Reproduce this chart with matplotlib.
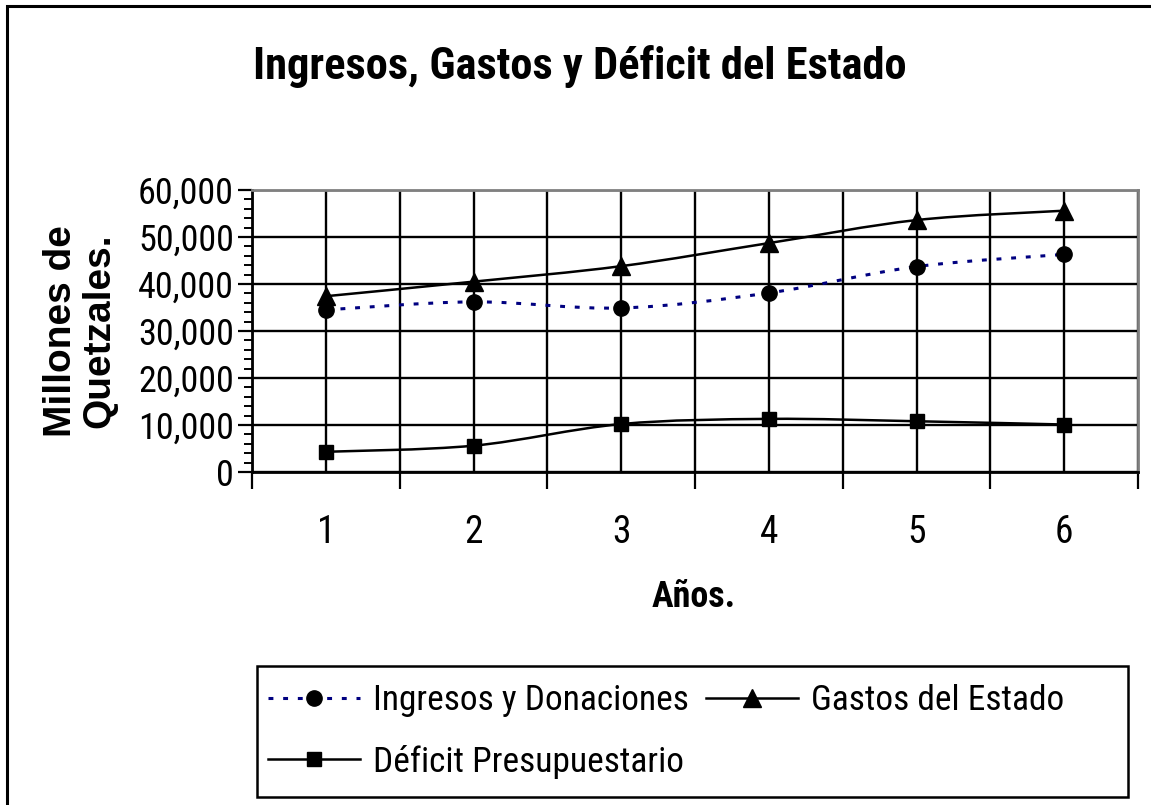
import numpy as np
import matplotlib
matplotlib.use("Agg")
import matplotlib.pyplot as plt
from matplotlib import font_manager
from matplotlib.path import Path
from matplotlib.patches import PathPatch, Rectangle
from matplotlib.lines import Line2D
from matplotlib.ticker import MultipleLocator, StrMethodFormatter

# datos
anios = [1, 2, 3, 4, 5, 6]
ingresos = [34500, 36200, 34900, 38100, 43700, 46300]
gastos = [37400, 40500, 43800, 48700, 53600, 55600]
deficit = [4300, 5600, 10200, 11300, 10800, 10100]

titulo = "Ingresos, Gastos y Déficit del Estado"
etiquetas = ["Ingresos y Donaciones", "Gastos del Estado", "Déficit Presupuestario"]


def pick_font(cands, default):
    disponibles = {f.name for f in font_manager.fontManager.ttflist}
    for n in cands:
        if n in disponibles:
            return n
    return default


narrow = pick_font(["Roboto Condensed", "Archivo Narrow", "PT Sans Narrow"], "Liberation Sans")
font = "Liberation Sans"


# curva suavizada tipo Excel (bezier)
def smooth_path(x, y):
    pts = np.column_stack([x, y]).astype(float)
    ext = np.vstack([pts[0], pts, pts[-1]])
    verts = [pts[0]]
    codes = [Path.MOVETO]
    for i in range(len(pts) - 1):
        p0, p1, p2, p3 = ext[i], ext[i + 1], ext[i + 2], ext[i + 3]
        verts += [p1 + (p2 - p0) / 6, p2 - (p3 - p1) / 6, p2]
        codes += [Path.CURVE4] * 3
    return Path(verts, codes)


W, H = 1151, 805
fig = plt.figure(figsize=(W / 100, H / 100), dpi=100)
ax = fig.add_axes([252 / W, 1 - 472 / H, (1138 - 252) / W, (472 - 190) / H])

navy = "#000080"
dots = (0, (1.6, 3.2))

ax.add_patch(PathPatch(smooth_path(anios, ingresos), fill=False, ec=navy, lw=2.2, ls=dots, zorder=3))
ax.add_patch(PathPatch(smooth_path(anios, gastos), fill=False, ec="black", lw=1.8, zorder=3))
ax.add_patch(PathPatch(smooth_path(anios, deficit), fill=False, ec="black", lw=1.8, zorder=3))

ax.plot(anios, ingresos, ls="none", marker="o", ms=11, color="black", zorder=4)
ax.plot(anios, gastos, ls="none", marker="^", ms=13, color="black", zorder=4)
ax.plot(anios, deficit, ls="none", marker="s", ms=10, color="black", zorder=4)

ax.set_xlim(0.5, 6.5)
ax.set_ylim(0, 60000)
ax.set_xticks(anios)
ax.set_xticks(np.arange(0.5, 7, 1), minor=True)
ax.yaxis.set_major_locator(MultipleLocator(10000))
ax.yaxis.set_minor_locator(MultipleLocator(2000))
ax.yaxis.set_major_formatter(StrMethodFormatter("{x:,.0f}"))

ax.grid(which="both", axis="x", color="black", lw=1.7)
ax.grid(which="major", axis="y", color="black", lw=1.7)
ax.set_axisbelow(True)

ax.tick_params(axis="x", which="major", length=0, pad=30, labelsize=27)
ax.tick_params(axis="x", which="minor", length=12, width=1.6, direction="out")
ax.tick_params(axis="y", which="major", length=10, width=1.6, direction="out", pad=3, labelsize=26)
ax.tick_params(axis="y", which="minor", length=6, width=1.4, direction="out")
for lab in ax.get_xticklabels() + ax.get_yticklabels():
    lab.set_family(narrow)

for s in ["left", "bottom"]:
    ax.spines[s].set_linewidth(2)
for s in ["top", "right"]:
    ax.spines[s].set_color("#808080")
    ax.spines[s].set_linewidth(2)

# textos
fig.text(580 / W, 1 - 79 / H, titulo, ha="center", va="baseline",
         family=narrow, weight="bold", fontsize=32)
fig.text(694 / W, 1 - 597 / H, "Años.", ha="center", va="center",
         family=narrow, weight="bold", fontsize=26)
fig.text(80 / W, 1 - 331 / H, "Millones de\nQuetzales.", ha="center", va="center",
         rotation=90, multialignment="center", linespacing=1.1,
         family=font, weight="bold", fontsize=28)

# leyenda
h_ing = Line2D([], [], color=navy, lw=2.2, ls=dots, marker="o", ms=11, mfc="black", mec="black")
h_gas = Line2D([], [], color="black", lw=1.8, marker="^", ms=13)
h_def = Line2D([], [], color="black", lw=1.8, marker="s", ms=10)
leg = fig.legend([h_ing, h_def, h_gas], [etiquetas[0], etiquetas[2], etiquetas[1]],
                 ncol=2, loc="upper left", bbox_to_anchor=(268 / W, 1 - 684 / H),
                 frameon=False, borderpad=0, borderaxespad=0, handlelength=2.6,
                 handletextpad=0.37, columnspacing=0.48, labelspacing=0.78,
                 prop=font_manager.FontProperties(family=narrow, size=25.5))

fig.add_artist(Rectangle((257 / W, 1 - 797 / H), (1128 - 257) / W, (797 - 666) / H,
                         transform=fig.transFigure, fill=False, ec="black", lw=1.8))
fig.add_artist(Rectangle((7 / W, -0.1), 2, 1.1 - 6.5 / H,
                         transform=fig.transFigure, fill=False, ec="black", lw=2.2))

fig.savefig("out.png", dpi=100)
